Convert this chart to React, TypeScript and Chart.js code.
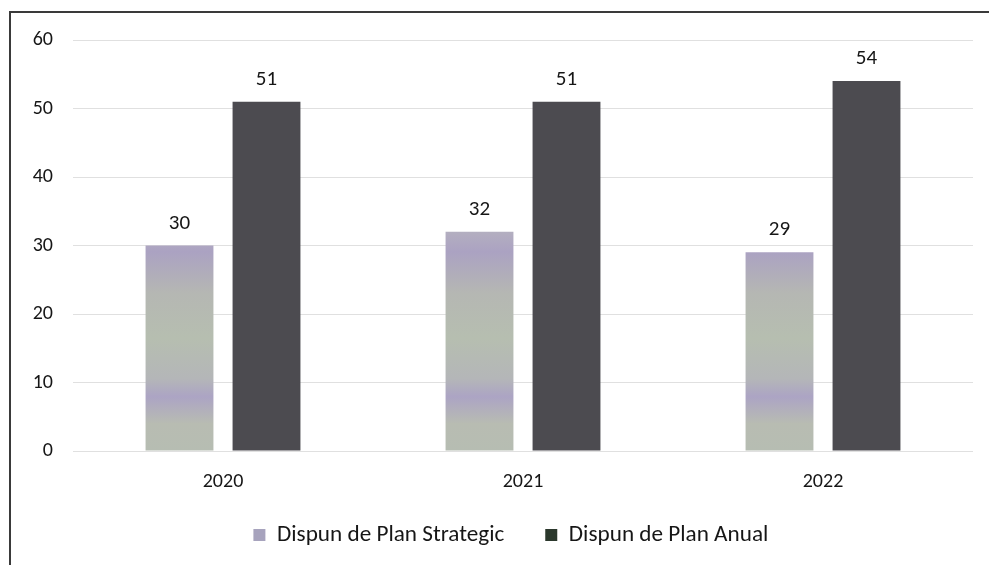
import React, { useEffect, useRef } from "react";
import { Chart, registerables } from "chart.js";

Chart.register(...registerables);

const categories = ["2020", "2021", "2022"];
const strategicLabel = "Dispun de Plan Strategic";
const annualLabel = "Dispun de Plan Anual";
const strategicValues = [30, 32, 29];
const annualValues = [51, 51, 54];
const yTicks = [0, 10, 20, 30, 40, 50, 60];

const FONT = "Carlito, Lato, 'Noto Sans', sans-serif";
const TEXT = "#161616";
const STRAT_SOLID = "#a7a3bd";
const ANNUAL_SOLID = "#4c4b50";
const LEGEND_PAD = 41;

function legendFontSize(): number {
  const c = document.createElement("canvas");
  const ctx = c.getContext("2d");
  if (!ctx) return 23;
  ctx.font = `100px ${FONT}`;
  const w = ctx.measureText(strategicLabel).width;
  return Math.round((100 * 227) / w * 10) / 10;
}

const valueLabels = {
  id: "valueLabels",
  afterDatasetsDraw(chart: any) {
    const { ctx } = chart;
    ctx.save();
    ctx.font = `21px ${FONT}`;
    ctx.fillStyle = TEXT;
    ctx.textAlign = "center";
    ctx.textBaseline = "alphabetic";
    chart.data.datasets.forEach((ds: any, i: number) => {
      const meta = chart.getDatasetMeta(i);
      meta.data.forEach((bar: any, j: number) => {
        ctx.fillText(String(ds.data[j]), bar.x, bar.y - 17);
      });
    });
    ctx.restore();
  },
};

function stratGradient(context: any) {
  const chart = context.chart;
  const { ctx, chartArea } = chart;
  if (!chartArea) return STRAT_SOLID;
  const g = ctx.createLinearGradient(0, chartArea.bottom - (chartArea.bottom - chartArea.top) * 0.55, 0, chartArea.bottom);
  g.addColorStop(0, "#b6b3bf");
  g.addColorStop(0.12, "#aba2c2");
  g.addColorStop(0.3, "#b5b7b3");
  g.addColorStop(0.5, "#b6beb0");
  g.addColorStop(0.68, "#b4b6b8");
  g.addColorStop(0.76, "#aca4c4");
  g.addColorStop(0.88, "#b8bcb2");
  g.addColorStop(1, "#b6bdb2");
  return g;
}

export default function App() {
  const ref = useRef<HTMLCanvasElement | null>(null);

  useEffect(() => {
    if (!ref.current) return;
    const LF = legendFontSize();
    const legendPlace = {
      id: "legendPlace",
      afterLayout(chart: any) {
        const l = chart.legend;
        if (!l) return;
        const boxLeft = 277 - LF / 2 - 12;
        l.left = boxLeft - LEGEND_PAD;
        l.top = 535 - LEGEND_PAD - LF / 2;
        l.bottom = 565;
        l.height = l.bottom - l.top;
      },
    };
    const chart = new Chart(ref.current, {
      type: "bar",
      data: {
        labels: categories,
        datasets: [
          {
            label: strategicLabel,
            data: strategicValues,
            backgroundColor: stratGradient,
            borderWidth: 0,
            categoryPercentage: 0.58,
            barPercentage: 0.78,
          },
          {
            label: annualLabel,
            data: annualValues,
            backgroundColor: ANNUAL_SOLID,
            borderWidth: 0,
            categoryPercentage: 0.58,
            barPercentage: 0.78,
          },
        ],
      },
      options: {
        animation: false,
        responsive: false,
        devicePixelRatio: 1,
        layout: { padding: { left: 20, right: 16, top: 40, bottom: 12 } },
        plugins: {
          tooltip: { enabled: false },
          legend: {
            position: "bottom",
            align: "start",
            maxHeight: 60,
            labels: {
              boxWidth: 12,
              boxHeight: 12,
              padding: LEGEND_PAD,
              color: TEXT,
              font: { family: FONT, size: LF },
              generateLabels: () => [
                { text: strategicLabel, fillStyle: STRAT_SOLID, strokeStyle: STRAT_SOLID, lineWidth: 0, datasetIndex: 0, fontColor: TEXT },
                { text: annualLabel, fillStyle: "#2b382c", strokeStyle: "#2b382c", lineWidth: 0, datasetIndex: 1, fontColor: TEXT },
              ] as any,
            },
          },
        },
        scales: {
          x: {
            grid: { display: false, drawTicks: false },
            border: { display: false },
            ticks: { color: TEXT, font: { family: FONT, size: 20 }, padding: 19 },
            afterFit: (scale: any) => {
              scale.height = 42;
            },
          },
          y: {
            min: 0,
            max: 60,
            grid: { color: "#e0e0e0", lineWidth: 1, drawTicks: false },
            border: { display: false },
            afterBuildTicks: (scale: any) => {
              scale.ticks = yTicks.map((v) => ({ value: v }));
            },
            ticks: { color: TEXT, font: { family: FONT, size: 20 }, padding: 20 },
            afterFit: (scale: any) => {
              scale.width = 53;
            },
          },
        },
      },
      plugins: [valueLabels, legendPlace],
    });
    return () => chart.destroy();
  }, []);

  return (
    <div style={{ position: "absolute", left: 0, top: 0, width: 989, height: 565, background: "#fff", overflow: "hidden" }}>
      <div
        style={{
          position: "absolute",
          left: 9,
          top: 11,
          width: 1000,
          height: 600,
          borderLeft: "2px solid #3a3a3a",
          borderTop: "2px solid #3a3a3a",
        }}
      />
      <canvas ref={ref} width={989} height={565} style={{ position: "absolute", left: 0, top: 0, width: 989, height: 565 }} />
    </div>
  );
}
